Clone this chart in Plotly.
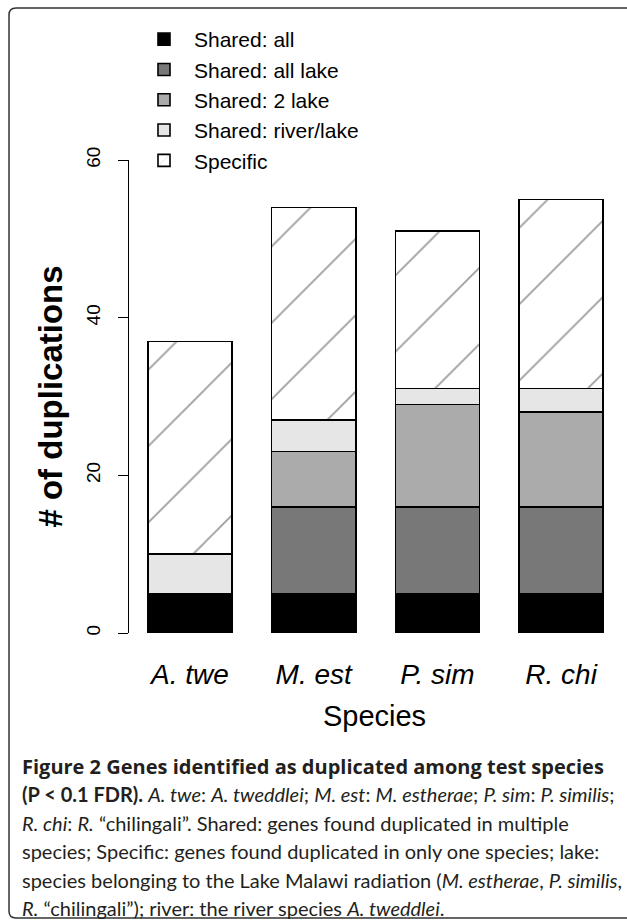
import plotly.graph_objects as go

species = ["A. twe", "M. est", "P. sim", "R. chi"]
series_names = ["Shared: all", "Shared: all lake", "Shared: 2 lake", "Shared: river/lake", "Specific"]
shared_all = [5, 5, 5, 5]
shared_all_lake = [0, 11, 11, 11]
shared_2_lake = [0, 7, 13, 12]
shared_river_lake = [5, 4, 2, 3]
specific = [27, 27, 20, 24]
y_ticks = [0, 20, 40, 60]

series_values = [shared_all, shared_all_lake, shared_2_lake, shared_river_lake, specific]
fills = ["#000000", "#787878", "#ababab", "#e6e6e6", "#ffffff"]

W, H = 627, 920
L, R, T, B = 129, 7, 160, 287
PW = W - L - R
PH = H - T - B

def px(x):
    return (x - L) / PW

def py(y):
    return (H - B - y) / PH

fig = go.Figure()
for name, vals, col in zip(series_names, series_values, fills):
    marker = dict(color=col, line=dict(color="#000000", width=1.6))
    if name == "Specific":
        marker["pattern"] = dict(shape="/", fgcolor="#999999", bgcolor="#ffffff",
                                 size=54, solidity=0.03, fillmode="replace")
    fig.add_trace(go.Bar(x=species, y=vals, name=name, marker=marker, width=0.68))

font_main = "Liberation Sans, Arial, Helvetica, sans-serif"

fig.update_layout(
    width=W, height=H,
    margin=dict(l=L, r=R, t=T, b=B, autoexpand=False),
    barmode="stack",
    plot_bgcolor="white", paper_bgcolor="white",
    font=dict(family=font_main, color="#000000"),
    showlegend=True,
    legend=dict(
        traceorder="normal",
        x=px(134), y=py(19), xanchor="left", yanchor="top",
        font=dict(size=21, family=font_main, color="#000000"),
        bgcolor="rgba(0,0,0,0)", itemwidth=50,
    ),
    xaxis=dict(
        type="category",
        range=[-0.493, 3.476],
        showline=False, showgrid=False, zeroline=False,
        ticks="", tickfont=dict(size=28, family=font_main, style="italic"),
        ticklabelstandoff=22,
        title=dict(text="Species", font=dict(size=29, family=font_main), standoff=16),
        automargin=False,
    ),
    yaxis=dict(
        range=[0, 60],
        tickvals=y_ticks, ticktext=[str(v) for v in y_ticks],
        showline=True, linecolor="#000000", linewidth=1.3,
        ticks="outside", ticklen=10, tickwidth=1.3, tickcolor="#000000",
        tickangle=-90, tickfont=dict(size=19, family=font_main),
        ticklabelstandoff=10,
        showgrid=False, zeroline=False,
        title=dict(text="<b># of duplications</b>", font=dict(size=33, family=font_main), standoff=10),
        automargin=False,
    ),
)

# border around the figure
r = 7
path = (f"M {px(627)},{py(8)} L {px(9 + r)},{py(8)} Q {px(9)},{py(8)} {px(9)},{py(8 + r)} "
        f"L {px(9)},{py(918 - r)} Q {px(9)},{py(918)} {px(9 + r)},{py(918)} L {px(627)},{py(918)}")
fig.add_shape(type="path", path=path, xref="paper", yref="paper",
              line=dict(color="#333333", width=1.5), layer="above")

caption_lines = [
    "<b>Figure 2 Genes identified as duplicated among test species</b>",
    "<b>(P &lt; 0.1 FDR).</b> <i>A. twe</i>: <i>A. tweddlei</i>; <i>M. est</i>: <i>M. estherae</i>; <i>P. sim</i>: <i>P. similis</i>;",
    "<i>R. chi</i>: <i>R.</i> \u201cchilingali\u201d. Shared: genes found duplicated in multiple",
    "species; Specific: genes found duplicated in only one species; lake:",
    "species belonging to the Lake Malawi radiation (<i>M. estherae</i>, <i>P. similis</i>,",
    "<i>R.</i> \u201cchilingali\u201d); river: the river species <i>A. tweddlei</i>.",
]
caption_fonts = ["Open Sans, sans-serif"] + ["Lato, sans-serif"] * 5
line_y = [766, 794, 823, 851, 880, 908]
for txt, fam, yy in zip(caption_lines, caption_fonts, line_y):
    fig.add_annotation(text=txt, xref="paper", yref="paper", x=px(20), y=py(yy),
                       xanchor="left", yanchor="middle", showarrow=False,
                       font=dict(family=fam, size=20, color="#231f20"))

fig.write_html("out.html", config={"displayModeBar": False},
               post_script="document.body.style.margin='0';document.body.style.overflow='hidden';")
